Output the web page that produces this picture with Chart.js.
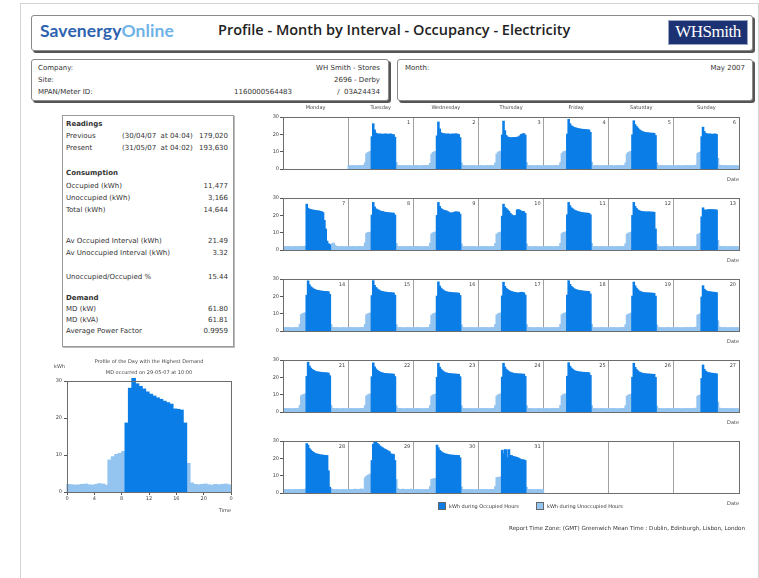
<!DOCTYPE html>
<html>
<head>
<meta charset="utf-8">
<script src="https://cdn.jsdelivr.net/npm/chart.js@4.4.0/dist/chart.umd.min.js"></script>
<style>
  body { margin:0; width:759px; height:578px; position:relative; overflow:hidden; background:#fff;
         font-family:"DejaVu Sans", sans-serif; color:#333; }
  .frame { position:absolute; left:20px; top:3px; width:737px; height:590px; border:1px solid #d4d4d4; }
  .box { position:absolute; background:#fff; border:1px solid #8a8a8a; border-radius:3px; box-shadow:2px 2px 0 #555; }
  .t { position:absolute; font-size:7px; line-height:10px; white-space:nowrap; }
  .b { font-weight:bold; }
  .r { text-align:right; }
  .wrap { position:absolute; }
  .sq { position:absolute; width:8px; height:8px; border:1px solid #666; box-sizing:border-box; }
</style>
</head>
<body>
<div class="frame"></div>

<!-- header -->
<div class="box" style="left:31px;top:15px;width:720px;height:34px;"></div>
<div class="t" style="left:40px;top:20px;font-size:17.5px;line-height:22px;font-family:Lato,sans-serif;font-weight:bold;letter-spacing:0.1px;">
  <span style="color:#2d63b0;">Savenergy</span><span style="color:#6fb3e6;">Online</span></div>
<div class="t" style="left:218px;top:21px;font-size:14.5px;line-height:18px;font-family:'Open Sans',sans-serif;font-weight:600;color:#222;">Profile - Month by Interval - Occupancy - Electricity</div>
<div style="position:absolute;left:668px;top:20px;width:80px;height:25px;background:#1d3272;border:1px solid #9aa6c8;box-sizing:border-box;"></div>
<div class="t" style="left:668px;top:21px;width:80px;text-align:center;font-family:'Liberation Serif',serif;font-size:17px;line-height:22px;color:#fff;letter-spacing:-0.5px;">WHSmith</div>

<!-- info boxes -->
<div class="box" style="left:31px;top:59px;width:356px;height:40px;"></div>
<div class="t" style="left:38px;top:63px;">Company:</div>
<div class="t r" style="right:379px;top:63px;">WH Smith - Stores</div>
<div class="t" style="left:38px;top:75px;">Site:</div>
<div class="t r" style="right:379px;top:75px;">2696 - Derby</div>
<div class="t" style="left:38px;top:87px;">MPAN/Meter ID:</div>
<div class="t r" style="right:467px;top:87px;">1160000564483</div>
<div class="t r" style="right:379px;top:87px;">/&nbsp;&nbsp;03A24434</div>

<div class="box" style="left:397px;top:59px;width:354px;height:40px;"></div>
<div class="t" style="left:405px;top:63px;">Month:</div>
<div class="t r" style="right:14px;top:63px;">May 2007</div>

<!-- readings panel -->
<div style="position:absolute;left:62px;top:115px;width:170px;height:230px;border:1px solid #999;box-shadow:1px 1px 0 #bbb;"></div>
<div class="t b" style="left:66px;top:119px;">Readings</div>
<div class="t" style="left:66px;top:131px;">Previous</div>
<div class="t" style="left:122px;top:131px;">(30/04/07&nbsp;&nbsp;at 04:04)</div>
<div class="t r" style="right:531px;top:131px;">179,020</div>
<div class="t" style="left:66px;top:143px;">Present</div>
<div class="t" style="left:122px;top:143px;">(31/05/07&nbsp;&nbsp;at 04:02)</div>
<div class="t r" style="right:531px;top:143px;">193,630</div>

<div class="t b" style="left:66px;top:168px;">Consumption</div>
<div class="t" style="left:66px;top:181px;">Occupied (kWh)</div>
<div class="t r" style="right:531px;top:181px;">11,477</div>
<div class="t" style="left:66px;top:193px;">Unoccupied (kWh)</div>
<div class="t r" style="right:531px;top:193px;">3,166</div>
<div class="t" style="left:66px;top:205px;">Total (kWh)</div>
<div class="t r" style="right:531px;top:205px;">14,644</div>

<div class="t" style="left:66px;top:236px;">Av Occupied Interval (kWh)</div>
<div class="t r" style="right:531px;top:236px;">21.49</div>
<div class="t" style="left:66px;top:248px;">Av Unoccupied Interval (kWh)</div>
<div class="t r" style="right:531px;top:248px;">3.32</div>

<div class="t" style="left:66px;top:272px;">Unoccupied/Occupied %</div>
<div class="t r" style="right:531px;top:272px;">15.44</div>

<div class="t b" style="left:66px;top:293px;">Demand</div>
<div class="t" style="left:66px;top:304px;">MD (kW)</div>
<div class="t r" style="right:531px;top:304px;">61.80</div>
<div class="t" style="left:66px;top:315px;">MD (kVA)</div>
<div class="t r" style="right:531px;top:315px;">61.81</div>
<div class="t" style="left:66px;top:326px;">Average Power Factor</div>
<div class="t r" style="right:531px;top:326px;">0.9959</div>

<!-- charts -->
<div class="wrap" id="mdWrap" style="left:20px;top:350px;width:235px;height:164px;"><canvas id="mdChart"></canvas></div>
<div id="rows"></div>

<!-- legend + footer -->
<div class="sq" style="left:438px;top:502px;background:#0b7de6;"></div>
<div class="t" style="left:449px;top:501px;font-size:5px;">kWh during Occupied Hours</div>
<div class="sq" style="left:536px;top:502px;background:#94c4f0;"></div>
<div class="t" style="left:547px;top:501px;font-size:5px;">kWh during Unoccupied Hours</div>
<div class="t r" style="right:14px;top:523px;font-size:5.6px;">Report Time Zone: (GMT) Greenwich Mean Time : Dublin, Edinburgh, Lisbon, London</div>

<script>
// Half-hourly kWh for each day of May 2007 (48 intervals, 00:00 -> 24:00)
const weekdays = ['Monday', 'Tuesday', 'Wednesday', 'Thursday', 'Friday', 'Saturday', 'Sunday'];
const firstWeekday = 1;            // 1 May 2007 = Tuesday (0 = Monday)
const occStart = [17, 17, 17, 17, 17, 17, 20];   // first occupied interval, Mon..Sun
const occEnd   = [34, 34, 34, 34, 34, 34, 31];   // last occupied interval, Mon..Sun
const valueTicks = [0, 10, 20, 30];
const hourTicks = [0, 4, 8, 12, 16, 20, 24];
const mdDay = 29;

const may01 = [1.9,1.8,1.8,1.9,1.8,1.7,1.8,1.9,1.8,1.8,1.9,2.0, 3.5,8.6,9.4,9.7,10.1,18.5,26.0,22.4,20.6,20.2,20.0,20.1, 20.0,19.9,20.0,20.1,20.0,19.9,20.0,20.1,19.8,19.7,18.2,3.6, 1.9,1.8,1.8,1.9,1.8,1.7,1.8,1.8,1.9,1.8,1.7,1.8];
const may02 = [1.8,1.8,1.9,1.8,1.7,1.8,1.8,1.9,1.8,1.9,1.8,2.0, 3.2,8.4,9.5,9.8,10.0,19.0,27.0,23.0,20.8,20.4,20.2,20.1, 20.0,20.1,20.0,19.9,20.0,20.1,20.0,20.2,20.0,19.8,18.0,3.4, 1.9,1.8,1.9,1.8,1.8,1.7,1.8,1.9,1.8,1.8,1.7,1.8];
const may03 = [1.8,1.9,1.8,1.8,1.7,1.8,1.9,1.8,1.8,1.9,1.8,1.9, 3.4,8.5,9.6,9.9,10.2,19.5,27.5,22.0,19.2,18.4,18.1,18.0, 17.9,18.0,18.1,18.0,18.2,18.4,19.0,19.8,20.1,20.3,19.5,3.5, 1.8,1.9,1.8,1.8,1.7,1.8,1.8,1.9,1.8,1.7,1.8,1.8];
const may04 = [1.8,1.8,1.9,1.8,1.8,1.7,1.8,1.8,1.9,1.8,1.9,2.0, 3.6,8.8,9.7,10.0,10.3,20.0,28.5,26.0,24.8,24.3,23.9,23.6, 23.4,23.2,23.0,22.9,22.8,22.7,22.6,22.6,22.5,22.4,21.0,3.8, 1.9,1.8,1.8,1.9,1.8,1.8,1.7,1.8,1.8,1.9,1.8,1.8];
const may05 = [1.8,1.9,1.8,1.8,1.7,1.8,1.8,1.9,1.8,1.8,1.9,1.9, 3.4,8.6,9.5,9.8,10.1,19.6,27.7,25.5,24.4,23.5,22.6,22.0, 21.6,21.3,21.0,20.9,20.8,20.7,20.6,20.5,20.6,20.4,19.2,3.5, 1.8,1.8,1.9,1.8,1.8,1.7,1.8,1.8,1.9,1.8,1.7,1.8];
const may06 = [1.8,1.8,1.8,1.9,1.8,1.7,1.8,1.8,1.8,1.9,1.8,1.8, 1.9,1.8,1.9,2.0,2.1,8.8,9.4,9.7,18.5,24.0,21.5,20.4, 20.2,20.0,20.1,20.0,19.9,20.0,20.1,19.8,6.0,2.2,1.9,1.8, 1.8,1.9,1.8,1.8,1.7,1.8,1.8,1.9,1.8,1.8,1.7,1.8];
const may07 = [1.8,1.9,1.8,1.8,1.9,1.8,1.7,1.8,1.8,1.9,1.8,1.8, 1.9,1.8,2.0,1.9,2.1,26.3,24.0,23.4,23.2,23.0,22.9,22.7, 22.6,22.5,22.4,22.2,22.0,21.5,17.0,12.0,5.0,3.5,3.0,2.2, 3.8,3.8,2.5,1.9,1.8,1.8,1.9,1.8,1.8,1.7,1.8,1.8];
const may08 = [1.9,1.8,1.8,1.9,1.8,1.8,1.7,1.8,1.9,1.8,1.8,1.9, 4.0,9.5,10.0,10.0,10.2,20.0,27.3,24.7,23.6,23.2,22.8,22.4, 22.2,22.0,21.8,21.6,21.5,21.4,21.3,21.2,21.2,21.1,20.0,3.6, 1.9,1.8,1.8,1.9,1.8,1.8,1.7,1.8,1.9,1.8,1.8,1.8];
const may09 = [1.8,1.9,1.8,1.8,1.9,1.8,1.8,1.7,1.8,1.9,1.8,1.9, 3.8,9.2,9.8,10.1,10.3,19.8,27.3,25.0,23.8,23.2,22.8,22.6, 22.4,22.0,21.5,21.2,21.2,21.4,21.8,21.9,21.8,21.7,20.6,3.5, 1.8,1.8,1.9,1.8,1.8,1.7,1.8,1.9,1.8,1.8,1.7,1.8];
const may10 = [1.8,1.8,1.9,1.8,1.8,1.9,1.8,1.7,1.8,1.8,1.9,1.9, 3.6,9.0,9.7,10.0,10.2,19.4,26.3,24.5,23.8,23.0,22.2,21.0, 20.2,19.7,19.6,19.8,23.0,23.2,22.8,22.3,22.2,22.0,21.0,3.4, 1.9,1.8,1.8,1.7,1.8,1.9,1.8,1.8,1.8,1.7,1.8,1.8];
const may11 = [1.8,1.9,1.8,1.8,1.8,1.9,1.8,1.7,1.8,1.9,1.8,1.9, 3.7,9.3,9.9,10.1,10.4,20.2,27.3,25.4,24.2,23.6,23.0,22.6, 22.3,22.0,21.8,21.6,21.5,21.3,21.2,21.2,21.1,21.0,20.2,3.6, 1.8,1.9,1.8,1.8,1.7,1.8,1.8,1.9,1.8,1.8,1.7,1.8];
const may12 = [1.8,1.8,1.9,1.8,1.7,1.8,1.8,1.9,1.8,1.8,1.9,1.9, 3.5,9.0,9.6,9.9,10.2,19.8,27.3,25.0,23.8,23.0,22.6,22.2, 22.1,22.0,21.9,21.8,21.8,21.9,21.8,21.7,21.8,21.6,12.0,3.2, 1.9,1.8,1.8,1.7,1.8,1.8,1.9,1.8,1.8,1.7,1.8,1.8];
const may13 = [1.8,1.8,1.9,1.8,1.8,1.7,1.8,1.8,1.9,1.8,1.8,1.8, 1.9,1.8,1.9,2.0,2.0,8.8,9.2,9.6,19.0,24.2,23.0,22.8, 23.0,23.2,23.2,23.1,23.2,23.0,23.1,22.9,5.5,2.1,1.9,1.8, 1.8,1.9,1.8,1.8,1.7,1.8,1.8,1.9,1.8,1.8,1.7,1.8];
const may14 = [1.9,1.8,1.8,1.9,1.8,1.8,1.7,1.8,1.9,1.8,1.8,1.9, 3.8,9.3,9.9,10.2,10.4,20.5,28.8,26.6,25.4,24.8,24.2,23.8, 23.5,23.3,23.1,23.0,22.9,22.8,22.7,22.7,22.6,22.5,21.0,3.6, 1.9,1.8,1.8,1.9,1.8,1.7,1.8,1.8,1.9,1.8,1.7,1.8];
const may15 = [1.8,1.9,1.8,1.8,1.9,1.8,1.7,1.8,1.8,1.9,1.8,1.9, 3.7,9.2,9.8,10.1,10.3,20.3,28.9,26.2,25.0,24.2,23.6,23.1, 22.8,22.6,22.4,22.3,22.2,22.1,22.0,22.0,21.9,21.8,20.5,3.5, 1.8,1.8,1.9,1.8,1.8,1.7,1.8,1.9,1.8,1.8,1.7,1.8];
const may16 = [1.8,1.8,1.9,1.8,1.8,1.9,1.8,1.7,1.8,1.8,1.9,1.9, 3.6,9.0,9.7,10.0,10.3,20.0,28.2,25.8,24.6,23.8,23.2,22.8, 22.5,22.3,22.2,22.1,22.0,21.9,21.9,21.8,21.8,21.7,20.4,3.4, 1.9,1.8,1.8,1.7,1.8,1.9,1.8,1.8,1.8,1.7,1.8,1.8];
const may17 = [1.8,1.9,1.8,1.8,1.8,1.9,1.8,1.7,1.8,1.9,1.8,1.9, 3.6,9.1,9.8,10.1,10.3,20.1,28.0,25.6,24.5,23.8,23.3,22.9, 22.6,22.4,22.2,22.0,21.9,21.8,22.0,22.2,22.1,21.9,20.6,3.5, 1.8,1.9,1.8,1.8,1.7,1.8,1.8,1.9,1.8,1.8,1.7,1.8];
const may18 = [1.8,1.8,1.9,1.8,1.7,1.8,1.8,1.9,1.8,1.8,1.9,1.9, 3.7,9.3,9.9,10.2,10.4,20.6,28.9,26.8,25.6,24.9,24.3,23.9, 23.6,23.4,23.2,23.1,23.0,22.9,22.8,22.8,22.7,22.6,21.2,3.7, 1.9,1.8,1.8,1.7,1.8,1.8,1.9,1.8,1.8,1.7,1.8,1.8];
const may19 = [1.8,1.8,1.8,1.9,1.8,1.7,1.8,1.8,1.8,1.9,1.8,1.9, 3.5,9.0,9.6,9.9,10.2,20.0,28.1,25.9,24.6,23.7,23.0,22.6, 22.3,22.1,22.0,21.9,21.9,21.8,21.8,21.7,21.7,21.6,20.0,3.4, 1.8,1.9,1.8,1.8,1.7,1.8,1.8,1.9,1.8,1.8,1.7,1.8];
const may20 = [1.8,1.8,1.9,1.8,1.8,1.7,1.8,1.8,1.9,1.8,1.8,1.8, 1.9,1.8,1.9,2.0,2.1,9.0,9.5,9.8,19.5,26.0,24.0,23.2, 22.8,22.6,22.5,22.4,22.3,22.2,22.2,22.0,5.8,2.2,1.9,1.8, 1.8,1.9,1.8,1.8,1.7,1.8,1.8,1.9,1.8,1.8,1.7,1.8];
const may21 = [1.9,1.8,1.8,1.9,1.8,1.8,1.7,1.8,1.9,1.8,1.8,1.9, 3.7,9.2,9.8,10.1,10.3,20.4,28.6,26.4,25.2,24.5,23.9,23.5, 23.2,23.0,22.9,22.8,22.7,22.6,22.5,22.5,22.4,22.3,20.8,3.6, 1.9,1.8,1.8,1.9,1.8,1.7,1.8,1.8,1.9,1.8,1.7,1.8];
const may22 = [1.8,1.9,1.8,1.8,1.9,1.8,1.7,1.8,1.8,1.9,1.8,1.9, 3.6,9.1,9.8,10.1,10.3,20.2,28.2,25.9,24.7,23.9,23.3,22.9, 22.6,22.4,22.2,22.1,22.0,21.9,21.9,21.8,21.8,21.7,20.3,3.5, 1.8,1.8,1.9,1.8,1.8,1.7,1.8,1.9,1.8,1.8,1.7,1.8];
const may23 = [1.8,1.8,1.9,1.8,1.8,1.9,1.8,1.7,1.8,1.8,1.9,1.9, 3.6,9.0,9.7,10.0,10.2,19.9,28.0,25.7,24.5,23.7,23.1,22.7, 22.4,22.2,22.1,22.0,21.9,21.8,21.8,21.7,21.7,21.6,20.2,3.4, 1.9,1.8,1.8,1.7,1.8,1.9,1.8,1.8,1.8,1.7,1.8,1.8];
const may24 = [1.8,1.9,1.8,1.8,1.8,1.9,1.8,1.7,1.8,1.9,1.8,1.9, 3.6,9.1,9.8,10.1,10.3,20.0,28.0,25.8,24.6,23.8,23.2,22.8, 22.5,22.3,22.1,22.0,21.9,21.9,21.8,21.8,21.7,21.7,20.4,3.5, 1.8,1.9,1.8,1.8,1.7,1.8,1.8,1.9,1.8,1.8,1.7,1.8];
const may25 = [1.8,1.8,1.9,1.8,1.7,1.8,1.8,1.9,1.8,1.8,1.9,1.9, 3.7,9.2,9.9,10.2,10.4,20.5,28.3,26.3,25.2,24.5,23.9,23.5, 23.3,23.1,23.0,22.9,22.8,22.8,22.7,22.7,22.6,22.5,21.0,3.6, 1.9,1.8,1.8,1.7,1.8,1.8,1.9,1.8,1.8,1.7,1.8,1.8];
const may26 = [1.8,1.8,1.8,1.9,1.8,1.7,1.8,1.8,1.8,1.9,1.8,1.9, 3.5,9.0,9.6,9.9,10.2,19.9,28.0,25.6,24.4,23.6,23.0,22.6, 22.3,22.1,22.0,21.9,21.8,21.8,21.7,21.7,21.6,21.6,19.8,3.3, 1.8,1.9,1.8,1.8,1.7,1.8,1.8,1.9,1.8,1.8,1.7,1.8];
const may27 = [1.8,1.8,1.9,1.8,1.8,1.7,1.8,1.8,1.9,1.8,1.8,1.8, 1.9,1.8,1.9,2.0,2.1,9.0,9.4,9.7,19.2,27.0,24.5,23.4, 22.9,22.6,22.4,22.3,22.2,22.1,22.0,21.9,5.6,2.2,1.9,1.8, 1.8,1.9,1.8,1.8,1.7,1.8,1.8,1.9,1.8,1.8,1.7,1.8];
const may28 = [1.8,1.9,1.8,1.8,1.9,1.8,1.7,1.8,1.8,1.9,1.8,1.8, 1.9,1.8,2.0,1.9,2.1,28.4,27.5,25.5,24.6,23.9,23.3,22.8, 22.5,22.3,22.1,21.9,21.8,21.7,21.6,21.6,21.5,12.7,3.2,2.4, 1.9,1.8,1.8,1.9,1.8,1.8,1.7,1.8,1.8,1.9,1.8,1.8];
const may29 = [2.0,1.9,1.8,1.9,2.0,2.1,1.9,1.8,2.0,2.2,2.1,1.8, 8.6,9.5,10.1,10.4,10.9,18.6,28.0,30.9,29.2,28.5,27.8,27.0, 26.4,25.9,25.4,25.0,24.5,24.1,23.7,22.4,22.3,22.1,18.6,7.7, 2.4,2.0,1.9,2.0,2.1,1.9,1.8,2.0,1.9,2.0,2.1,1.9];
const may30 = [1.8,1.8,1.9,1.8,1.8,1.9,1.8,1.7,1.8,1.8,1.9,1.9, 3.6,7.8,8.0,8.2,8.4,27.5,26.0,24.5,23.8,23.2,22.8,22.5, 22.3,22.1,21.9,21.8,21.7,21.7,21.6,21.6,21.6,21.5,20.2,3.4, 1.9,1.8,1.8,1.7,1.8,1.9,1.8,1.8,1.8,1.7,1.8,1.8];
const may31 = [1.8,1.9,1.8,1.8,1.8,1.9,1.8,1.7,1.8,1.9,1.8,1.9, 3.6,8.8,8.9,9.0,9.2,24.5,22.5,24.9,24.8,20.2,24.9,21.6, 21.5,21.0,20.8,20.6,20.4,20.0,19.6,19.2,19.0,19.0,18.6,3.2, 1.8,1.9,1.8,1.8,1.7,1.8,1.8,1.9,1.8,1.8,1.7,1.8];

const mayDays = [may01, may02, may03, may04, may05, may06, may07, may08, may09, may10,
  may11, may12, may13, may14, may15, may16, may17, may18, may19, may20,
  may21, may22, may23, may24, may25, may26, may27, may28, may29, may30, may31];

const DARK = '#0b7de6';
const LIGHT = '#94c4f0';
Chart.defaults.font.family = '"DejaVu Sans", sans-serif';
Chart.defaults.font.size = 5;
Chart.defaults.color = '#444';

function isOccupied(weekday, i) {
  return i >= occStart[weekday] && i <= occEnd[weekday];
}

function barSet(label, data, color, clip) {
  return { label, data, backgroundColor: color, grouped: false, barPercentage: 1,
    categoryPercentage: 1, borderWidth: 0, inflateAmount: 0.6, clip };
}

// draw a box round the plot area
const frame = {
  id: 'frame',
  afterDraw(chart) {
    const { ctx, chartArea: a } = chart;
    ctx.save();
    ctx.strokeStyle = '#6d6d6d';
    ctx.lineWidth = 1;
    ctx.strokeRect(Math.round(a.left) + 0.5, Math.round(a.top) + 0.5,
      Math.round(a.right - a.left), Math.round(a.bottom - a.top));
    ctx.restore();
  }
};

// ---- profile of the day with the highest demand ----
const mdValues = mayDays[mdDay - 1];
const mdWeekday = (mdDay - 1 + firstWeekday) % 7;
const mdOcc = [], mdUnocc = [];
mdValues.forEach((v, i) => {
  const p = { x: (i + 0.5) / 2, y: v };
  (isOccupied(mdWeekday, i) ? mdOcc : mdUnocc).push(p);
});

const mdTitles = {
  id: 'mdTitles',
  afterDraw(chart) {
    const { ctx, chartArea: a } = chart;
    ctx.save();
    ctx.fillStyle = '#444';
    ctx.font = '5px "DejaVu Sans"';
    ctx.textAlign = 'center';
    ctx.fillText('Profile of the Day with the Highest Demand', (a.left + a.right) / 2, a.top - 18);
    ctx.fillText('MD occurred on 29-05-07 at 10:00', (a.left + a.right) / 2, a.top - 7);
    ctx.textAlign = 'left';
    ctx.fillText('kWh', 34, a.top - 13);
    ctx.restore();
  }
};

new Chart(document.getElementById('mdChart'), {
  type: 'bar',
  data: {
    datasets: [
      barSet('kWh during Occupied Hours', mdOcc, DARK, 3),
      barSet('kWh during Unoccupied Hours', mdUnocc, LIGHT, 3)
    ]
  },
  options: {
    animation: false,
    responsive: true,
    maintainAspectRatio: false,
    layout: { padding: { top: 31, right: 24, left: 0, bottom: 0 } },
    plugins: { legend: { display: false }, tooltip: { enabled: false } },
    scales: {
      x: {
        type: 'linear', min: 0, max: 24, offset: false,
        afterBuildTicks: s => { s.ticks = hourTicks.map(v => ({ value: v })); },
        ticks: { callback: v => (v === 24 ? '0' : v), padding: 1, maxRotation: 0 },
        grid: { offset: false, drawOnChartArea: false, tickLength: 3, color: '#555' },
        border: { color: '#6d6d6d' },
        title: { display: true, text: 'Time', align: 'end', padding: 0 },
        afterFit: s => { s.height = 22; }
      },
      y: {
        min: 0, max: 30,
        afterBuildTicks: s => { s.ticks = valueTicks.map(v => ({ value: v })); },
        ticks: { padding: 2 },
        grid: { drawOnChartArea: false, tickLength: 3, color: '#555' },
        border: { color: '#6d6d6d' },
        afterFit: s => { s.width = 47; }
      }
    }
  },
  plugins: [frame, mdTitles]
});

// ---- month grid, one chart per week ----
const rowsEl = document.getElementById('rows');
for (let r = 0; r < 5; r++) {
  const plotTop = 117 + 81 * r;
  const padTop = r === 0 ? 20 : 4;
  const wrap = document.createElement('div');
  wrap.className = 'wrap';
  wrap.style.left = '262px';
  wrap.style.top = (plotTop - padTop) + 'px';
  wrap.style.width = '490px';
  wrap.style.height = (padTop + 52 + 14) + 'px';
  const cv = document.createElement('canvas');
  wrap.appendChild(cv);
  rowsEl.appendChild(wrap);

  const occ = [], unocc = [], dayNums = [];
  for (let c = 0; c < 7; c++) {
    const day = r * 7 + c - firstWeekday + 1;
    if (day < 1 || day > mayDays.length) { dayNums.push(null); continue; }
    dayNums.push(day);
    mayDays[day - 1].forEach((v, i) => {
      const p = { x: c * 48 + i + 0.5, y: v };
      (isOccupied(c, i) ? occ : unocc).push(p);
    });
  }

  const cellLabels = {
    id: 'cellLabels',
    afterDatasetsDraw(chart) {
      const { ctx, chartArea: a, scales: { x } } = chart;
      ctx.save();
      ctx.fillStyle = '#444';
      ctx.font = '5px "DejaVu Sans"';
      ctx.textBaseline = 'top';
      ctx.textAlign = 'right';
      dayNums.forEach((d, c) => {
        if (d !== null) ctx.fillText(String(d), x.getPixelForValue((c + 1) * 48) - 3, a.top + 3);
      });
      if (r === 0) {
        ctx.textAlign = 'center';
        weekdays.forEach((w, c) => ctx.fillText(w, x.getPixelForValue(c * 48 + 24), a.top - 12));
      }
      ctx.restore();
    }
  };

  new Chart(cv, {
    type: 'bar',
    data: {
      datasets: [
        barSet('kWh during Occupied Hours', occ, DARK),
        barSet('kWh during Unoccupied Hours', unocc, LIGHT)
      ]
    },
    options: {
      animation: false,
      responsive: true,
      maintainAspectRatio: false,
      layout: { padding: { top: padTop, right: 13, left: 0, bottom: 0 } },
      plugins: { legend: { display: false }, tooltip: { enabled: false } },
      scales: {
        x: {
          type: 'linear', min: 0, max: 336, offset: false,
          ticks: { display: false, stepSize: 48 },
          grid: { offset: false, drawTicks: false, color: '#a0a0a0' },
          border: { color: '#6d6d6d' },
          title: { display: true, text: 'Date', align: 'end', padding: 0 },
          afterFit: s => { s.height = 14; }
        },
        y: {
          min: 0, max: 30,
          afterBuildTicks: s => { s.ticks = valueTicks.map(v => ({ value: v })); },
          ticks: { padding: 1 },
          grid: { drawOnChartArea: false, tickLength: 3, color: '#555' },
          border: { color: '#6d6d6d' },
          afterFit: s => { s.width = 21; }
        }
      }
    },
    plugins: [frame, cellLabels]
  });
}
</script>
</body>
</html>
